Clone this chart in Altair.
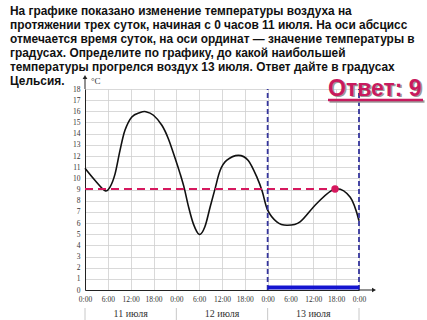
import altair as alt
import pandas as pd

# ---- data ----
hours = [0, 2.6, 5.3, 6.6, 7.9, 9.2, 10.5, 12.3, 14.5, 16.0, 18, 20.2, 21.9, 23.7, 25,
         26.1, 27.1, 28.5, 30.05, 31.5, 32.9, 34.2, 35.5, 37.2, 40.3, 42.9, 45.3, 46.6,
         48, 50.4, 53, 56.5, 60.9, 65.7, 69.7, 72]
temps = [10.9, 9.83, 8.88, 9.24, 10.4, 12.5, 14.3, 15.5, 15.9, 15.97, 15.65, 14.75,
         13.55, 11.77, 10.4, 9.1, 7.6, 5.9, 4.97, 5.66, 7.45, 9.1, 10.7, 11.6, 12.06,
         11.6, 10.0, 8.8, 7.15, 6.1, 5.8, 6.1, 7.75, 9.05, 8.3, 6.2]

answer_hour = 65.7
answer_temp = 9.05
focus_start = 48
focus_end = 72
day_bounds = [0, 24, 48, 72]
day_mid = [12, 36, 60]
day_names = ["11 июля", "12 июля", "13 июля"]
x_ticks = list(range(0, 73, 6))
y_ticks = list(range(0, 19))

title_lines = [
    "На графике показано изменение температуры воздуха на",
    "протяжении трех суток, начиная с 0 часов 11 июля. На оси абсцисс",
    "отмечается время суток, на оси ординат — значение температуры в",
    "градусах. Определите по графику, до какой наибольшей",
    "температуры прогрелся воздух 13 июля. Ответ дайте в градусах",
    "Цельсия.",
]
answer_text = "Ответ: 9"
unit_text = "°C"

W, H = 274, 201
xs = alt.Scale(domain=[0, 72], nice=False, zero=False)
ys = alt.Scale(domain=[0, 18], nice=False, zero=False)
serif = "Liberation Serif"
sans = "Liberation Sans"

xa = alt.Axis(values=x_ticks, labelExpr="(datum.value % 24) + ':00'", title=None,
              grid=True, gridColor="#cfcfcf", gridWidth=0.8, domainColor="#222",
              domainWidth=1, ticks=False, labelFont=serif, labelFontSize=7.5,
              labelColor="#333", labelPadding=5, labelOverlap=False, labelFlush=False)
ya = alt.Axis(values=y_ticks, title=None, grid=True, gridColor="#cfcfcf", gridWidth=0.8,
              domainColor="#222", domainWidth=1, ticks=False, labelFont=serif,
              labelFontSize=7.5, labelColor="#333", labelPadding=5, labelOverlap=False,
              labelFlush=False)


def X(f):
    return alt.X(f, type="quantitative", scale=xs, axis=xa)


def Y(f):
    return alt.Y(f, type="quantitative", scale=ys, axis=ya)


curve_df = pd.DataFrame({"h": hours, "t": temps})
curve = alt.Chart(curve_df).mark_line(color="#111", strokeWidth=1.6,
                                      interpolate="cardinal").encode(x=X("h"), y=Y("t"))

ans_df = pd.DataFrame({"h0": [0], "h": [answer_hour], "t": [answer_temp]})
red_line = alt.Chart(ans_df).mark_rule(color="#d6185e", strokeWidth=2,
                                       strokeDash=[8, 5]).encode(
    x=X("h0"), x2="h", y=Y("t"))
red_dot = alt.Chart(ans_df).mark_point(filled=True, color="#d6185e", size=55,
                                       opacity=1).encode(x=X("h"), y=Y("t"))

vb_df = pd.DataFrame({"h": [focus_start, focus_end], "lo": [0, 0], "hi": [18, 18]})
blue_dash = alt.Chart(vb_df).mark_rule(color="#35359c", strokeWidth=1.8,
                                       strokeDash=[5, 3]).encode(
    x=X("h"), y=Y("lo"), y2="hi")
hb_df = pd.DataFrame({"h": [focus_start], "h2": [focus_end], "t": [0]})
blue_bar = alt.Chart(hb_df).mark_rule(color="#1414d0", strokeWidth=4, yOffset=-2.5).encode(
    x=X("h"), x2="h2", y=Y("t"))

# axis arrows
one = pd.DataFrame({"a": [0]})
x_arrow = alt.Chart(one).mark_rule(color="#222", strokeWidth=1).encode(
    x=alt.value(W), x2=alt.value(W + 14), y=alt.value(H))
x_head = alt.Chart(one).mark_point(shape="triangle-right", filled=True, color="#222",
                                   size=22, opacity=1).encode(x=alt.value(W + 15), y=alt.value(H))
y_arrow = alt.Chart(one).mark_rule(color="#222", strokeWidth=1).encode(
    x=alt.value(0), y=alt.value(0), y2=alt.value(-11))
y_head = alt.Chart(one).mark_point(shape="triangle-up", filled=True, color="#222",
                                   size=22, opacity=1).encode(x=alt.value(0), y=alt.value(-12))
unit = alt.Chart(one).mark_text(text=unit_text, font=serif, fontSize=9, color="#333",
                                align="left", baseline="middle").encode(
    x=alt.value(6), y=alt.value(-8))

# day row
sep_df = pd.DataFrame({"h": day_bounds})
seps = alt.Chart(sep_df).mark_rule(color="#c8c8c8", strokeWidth=1).encode(
    x=X("h"), y=alt.value(H + 18), y2=alt.value(H + 32))
day_df = pd.DataFrame({"h": day_mid, "name": day_names})
days = alt.Chart(day_df).mark_text(font=serif, fontSize=10, color="#333",
                                   baseline="middle").encode(
    x=X("h"), y=alt.value(H + 24), text="name:N")

# question text
title = alt.Chart(one).mark_text(text=title_lines, font=sans, fontSize=11.9, fontWeight="bold",
                                 color="#111", align="left", baseline="alphabetic",
                                 lineHeight=14.1).encode(x=alt.value(-75), y=alt.value(-74.5))

# answer
ans_shadow = alt.Chart(one).mark_text(text=answer_text, font=sans, fontSize=23,
                                      fontWeight="bold", color="#9a9a9a", align="left",
                                      baseline="alphabetic").encode(
    x=alt.value(244.5), y=alt.value(8))
ans_txt = alt.Chart(one).mark_text(text=answer_text, font=sans, fontSize=23,
                                   fontWeight="bold", color="#c81a5e", align="left",
                                   baseline="alphabetic").encode(
    x=alt.value(243), y=alt.value(6.5))
ans_ul_sh = alt.Chart(one).mark_rule(color="#9a9a9a", strokeWidth=2.5).encode(
    x=alt.value(244.5), x2=alt.value(339.5), y=alt.value(12.5))
ans_ul = alt.Chart(one).mark_rule(color="#c81a5e", strokeWidth=2.5).encode(
    x=alt.value(243), x2=alt.value(338), y=alt.value(11))

chart = alt.layer(
    curve, red_line, blue_dash, blue_bar, red_dot, x_arrow, x_head, y_arrow, y_head,
    unit, seps, days, title, ans_shadow, ans_ul_sh, ans_txt, ans_ul
).properties(
    width=W, height=H,
    autosize=alt.AutoSizeParams(type="none"),
    padding={"left": 85, "top": 89, "right": 68, "bottom": 30},
    background="white",
).configure_view(strokeWidth=0)

chart.save("out.html", embed_options={"renderer": "svg", "actions": False})
